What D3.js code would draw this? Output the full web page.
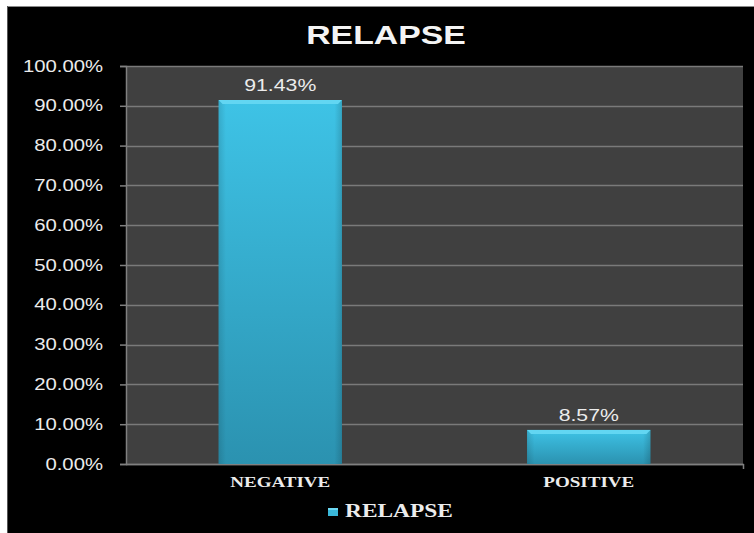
<!DOCTYPE html>
<html>
<head>
<meta charset="utf-8">
<script src="https://cdn.jsdelivr.net/npm/d3@7"></script>
<style>
  html, body { margin: 0; padding: 0; background: #ffffff; }
  svg { display: block; }
</style>
</head>
<body>
<svg id="chart" width="754" height="533"></svg>
<script>
// Chart data
const categories = ["NEGATIVE", "POSITIVE"];
const relapseValues = [91.43, 8.57];
const yTicks = [0, 10, 20, 30, 40, 50, 60, 70, 80, 90, 100];
const seriesName = "RELAPSE";
const chartTitle = "RELAPSE";

const svg = d3.select("#chart");
const W = 754, H = 533;
const SANS = "Liberation Sans, Arial, sans-serif";
const SERIF = "Liberation Serif, Times New Roman, serif";
const STRETCH = 1.27; // text is set slightly wide

// Outer frame
svg.append("rect").attr("x", 7).attr("y", 6).attr("width", W - 7).attr("height", H - 6).attr("fill", "#000");
svg.append("line").attr("x1", 7).attr("x2", W).attr("y1", 6.5).attr("y2", 6.5).attr("stroke", "#8a8a8a").attr("stroke-width", 1);
svg.append("line").attr("x1", 7.5).attr("x2", 7.5).attr("y1", 6).attr("y2", H).attr("stroke", "#555").attr("stroke-width", 1);

const plot = { left: 126, right: 743, top: 66, bottom: 464 };

const x = d3.scaleBand().domain(categories).range([plot.left, plot.right]).paddingInner(0.6).paddingOuter(0.3);
const y = d3.scaleLinear().domain([0, 100]).range([plot.bottom, plot.top]);

// Gradients for bars
const defs = svg.append("defs");
const g = defs.append("linearGradient").attr("id", "barFill").attr("x1", 0).attr("y1", 0).attr("x2", 0).attr("y2", 1);
g.append("stop").attr("offset", "0%").attr("stop-color", "#3ec3e6");
g.append("stop").attr("offset", "100%").attr("stop-color", "#2b92b0");
const gh = defs.append("linearGradient").attr("id", "barSide").attr("x1", 0).attr("y1", 0).attr("x2", 1).attr("y2", 0);
gh.append("stop").attr("offset", "0%").attr("stop-color", "#000").attr("stop-opacity", 0.12);
gh.append("stop").attr("offset", "6%").attr("stop-color", "#000").attr("stop-opacity", 0);
gh.append("stop").attr("offset", "94%").attr("stop-color", "#000").attr("stop-opacity", 0);
gh.append("stop").attr("offset", "100%").attr("stop-color", "#000").attr("stop-opacity", 0.15);

// Plot background
svg.append("rect")
  .attr("x", plot.left).attr("y", plot.top)
  .attr("width", plot.right - plot.left).attr("height", plot.bottom - plot.top)
  .attr("fill", "#404040");

// Gridlines
svg.append("g").selectAll("line").data(yTicks).join("line")
  .attr("x1", plot.left).attr("x2", plot.right)
  .attr("y1", d => Math.round(y(d)) + 0.5).attr("y2", d => Math.round(y(d)) + 0.5)
  .attr("stroke", "#7a7a7a").attr("stroke-width", 1.5);

// Y axis
const yAxis = svg.append("g")
  .attr("transform", `translate(${plot.left},0)`)
  .call(d3.axisLeft(y).tickValues(yTicks).tickSize(6).tickFormat(d => d.toFixed(2) + "%"));
yAxis.select(".domain").attr("stroke", "#808080").attr("stroke-width", 1.5);
yAxis.selectAll(".tick line").attr("stroke", "#808080").attr("stroke-width", 1.5);
yAxis.selectAll(".tick text")
  .attr("x", 0)
  .attr("transform", `translate(-23,0) scale(${STRETCH},1)`)
  .attr("fill", "#ececec").attr("font-family", SANS).attr("font-size", 16);

// X axis baseline and right tick
svg.append("line").attr("x1", plot.left).attr("x2", plot.right + 1)
  .attr("y1", plot.bottom + 0.5).attr("y2", plot.bottom + 0.5).attr("stroke", "#808080").attr("stroke-width", 1.5);
svg.append("line").attr("x1", plot.right + 0.5).attr("x2", plot.right + 0.5)
  .attr("y1", plot.bottom).attr("y2", plot.bottom + 5).attr("stroke", "#808080").attr("stroke-width", 1.5);

// Bars
const bars = svg.append("g").selectAll("g").data(categories).join("g");
bars.append("rect")
  .attr("x", d => x(d)).attr("y", (d, i) => y(relapseValues[i]))
  .attr("width", x.bandwidth()).attr("height", (d, i) => y(0) - y(relapseValues[i]))
  .attr("fill", "url(#barFill)");
bars.append("rect")
  .attr("x", d => x(d)).attr("y", (d, i) => y(relapseValues[i]))
  .attr("width", x.bandwidth()).attr("height", (d, i) => y(0) - y(relapseValues[i]))
  .attr("fill", "url(#barSide)");
// bevelled top edge
bars.append("path")
  .attr("d", (d, i) => {
    const x0 = x(d), x1 = x(d) + x.bandwidth(), yt = y(relapseValues[i]), b = 4;
    return `M${x0},${yt}L${x1},${yt}L${x1 - b},${yt + b}L${x0 + b},${yt + b}Z`;
  })
  .attr("fill", "#62d6f2");

// Value labels
svg.append("g").selectAll("text").data(categories).join("text")
  .attr("transform", (d, i) => `translate(${x(d) + x.bandwidth() / 2},${y(relapseValues[i]) - 9}) scale(1.25,1)`)
  .attr("text-anchor", "middle")
  .attr("fill", "#ececec").attr("font-family", SANS).attr("font-size", 17)
  .text((d, i) => relapseValues[i].toFixed(2) + "%");

// Category labels
svg.append("g").selectAll("text").data(categories).join("text")
  .attr("transform", d => `translate(${x(d) + x.bandwidth() / 2},${plot.bottom + 23}) scale(${STRETCH},1)`)
  .attr("text-anchor", "middle")
  .attr("fill", "#ececec").attr("font-family", SERIF)
  .attr("font-weight", "bold").attr("font-size", 15)
  .text(d => d);

// Title
svg.append("text")
  .attr("transform", `translate(386,44) scale(1.3,1)`)
  .attr("text-anchor", "middle")
  .attr("fill", "#f4f4f4").attr("font-family", SANS)
  .attr("font-weight", "bold").attr("font-size", 26)
  .text(chartTitle);

// Legend
const legend = svg.append("g").attr("transform", "translate(328,508)");
legend.append("rect").attr("x", 0).attr("y", 0).attr("width", 10).attr("height", 8).attr("fill", "#3ab8da");
legend.append("rect").attr("x", 0).attr("y", 0).attr("width", 10).attr("height", 2).attr("fill", "#6cd8f2");
legend.append("text")
  .attr("transform", `translate(17,9) scale(1.3,1)`)
  .attr("fill", "#ececec").attr("font-family", SERIF)
  .attr("font-weight", "bold").attr("font-size", 18)
  .text(seriesName);
</script>
</body>
</html>
